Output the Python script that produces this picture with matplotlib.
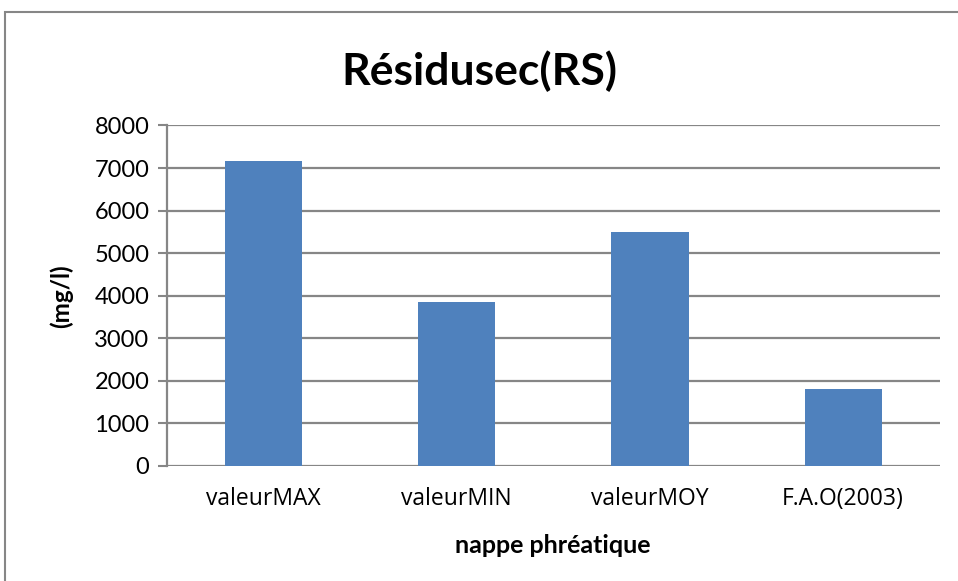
import matplotlib.pyplot as plt
from matplotlib.patches import Rectangle

categories = ["valeurMAX", "valeurMIN", "valeurMOY", "F.A.O(2003)"]
values = [7165, 3852, 5500, 1803]

plt.rcParams['font.family'] = ['Lato', 'DejaVu Sans']

fig = plt.figure(figsize=(9.58, 5.81), dpi=100)
ax = fig.add_axes([0.174, 0.198, 0.807, 0.586])

ax.bar(range(len(categories)), values, width=0.4, color="#4f81bd", zorder=3)

ax.set_xlim(-0.5, len(categories) - 0.5)
ax.set_ylim(0, 8000)
ax.set_yticks(range(0, 8001, 1000))
ax.set_xticks(range(len(categories)))
ax.set_xticklabels(categories, family=["Open Sans", "DejaVu Sans"])
ax.tick_params(axis="y", labelsize=17, length=6.5, color="#868686", width=1.5, pad=6)
ax.tick_params(axis="x", labelsize=16.5, length=0, pad=15)
ax.grid(axis="y", color="#868686", linewidth=1.6, zorder=0)

for side in ["top", "right", "bottom"]:
    ax.spines[side].set_visible(False)
ax.spines["left"].set_color("#868686")
ax.spines["left"].set_linewidth(1.6)

ax.set_xlabel("nappe phréatique", fontsize=18, fontweight="bold", labelpad=17)
ax.set_ylabel("(mg/l)", fontsize=17.5, fontweight="bold", labelpad=15)

fig.text(0.5, 0.877, "Résidusec(RS)", ha="center", va="center",
         fontsize=32, fontweight="bold")

# border of the chart area
fig.patches.append(Rectangle((0.005, -0.01), 1.2, 0.99, transform=fig.transFigure,
                             fill=False, edgecolor="#868686", linewidth=1.5))

fig.savefig("out.png", dpi=100)
